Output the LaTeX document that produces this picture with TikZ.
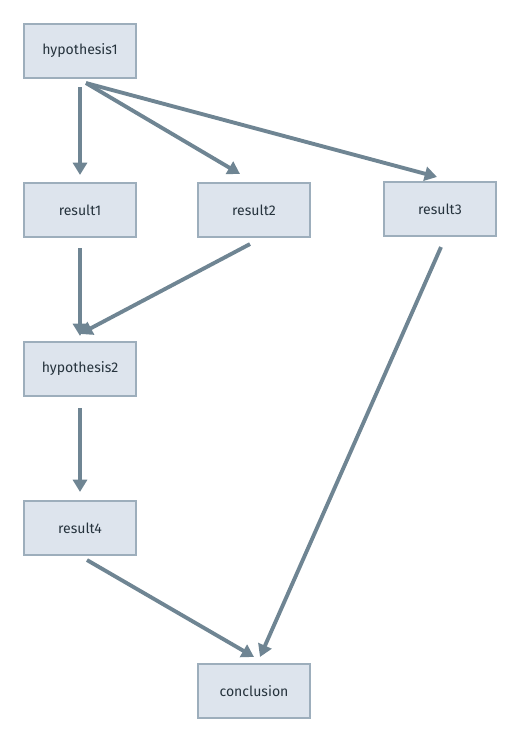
\documentclass[tikz,border=0pt]{standalone}
\usepackage{fontspec}
\setmainfont{Fira Sans}
\usepackage{xcolor}
\usetikzlibrary{arrows.meta,positioning}
\definecolor{boxfill}{HTML}{DDE4ED}
\definecolor{boxline}{HTML}{9DAEBC}
\definecolor{arrowcol}{HTML}{6F8593}
\definecolor{textcol}{HTML}{26333D}
\tikzstyle{stepbox} = [rectangle, minimum width=2.24cm, minimum height=1.08cm, text centered, draw=boxline, line width=1.2pt, fill=boxfill, text=textcol, font=\fontsize{8}{10}\selectfont]
\tikzstyle{arrow} = [draw=arrowcol, line width=2.2pt, -{Triangle[length=7pt,width=8pt]}]

\begin{document}
\begin{tikzpicture}[x=0.02cm, y=-0.02cm]
        \useasboundingbox (0,0) rectangle (520,743);
        % Nodes for hypotheses and results
        \node (hyp1) [stepbox] at (80,51) {hypothesis1};
        \node (res1) [stepbox] at (80,210) {result1};
        \node (res2) [stepbox] at (254,210) {result2};
        \node (res3) [stepbox] at (440,209) {result3};
        \node (hyp2) [stepbox] at (80,369) {hypothesis2};
        \node (res4) [stepbox] at (80,528) {result4};
        \node (conc) [stepbox] at (254,691) {conclusion};

        % From hypothesis1
        \draw [arrow] ([shift={(0,8)}]hyp1.south) -- ([shift={(0,-7)}]res1.north);
        \draw [arrow] ([shift={(6,4)}]hyp1.south) -- ([shift={(-14,-8)}]res2.north);
        \draw [arrow] ([shift={(6,4)}]hyp1.south) -- ([shift={(-3,-4)}]res3.north);

        % Into hypothesis2
        \draw [arrow] ([shift={(0,10)}]res1.south) -- ([shift={(0,-5)}]hyp2.north);
        \draw [arrow] ([shift={(-4,6)}]res2.south) -- ([shift={(0,-7)}]hyp2.north);
        \draw [arrow] ([shift={(0,11)}]hyp2.south) -- ([shift={(0,-8)}]res4.north);

        % Into conclusion
        \draw [arrow] ([shift={(7,4)}]res4.south) -- ([shift={(0,-6)}]conc.north);
        \draw [arrow] ([shift={(1,10)}]res3.south) -- ([shift={(6,-6)}]conc.north);
    \end{tikzpicture}
\end{document}
